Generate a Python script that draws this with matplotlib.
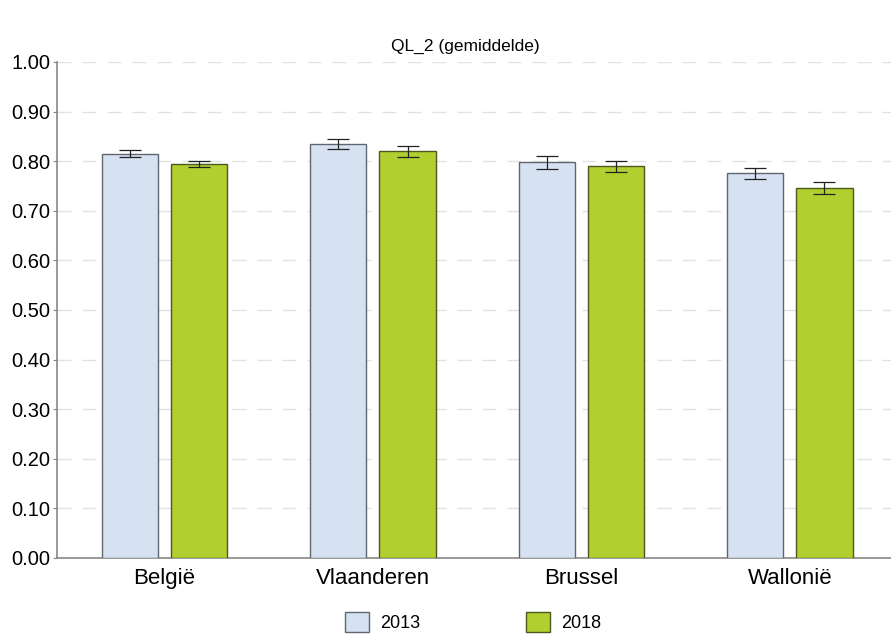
import numpy as np
import matplotlib.pyplot as plt
from matplotlib.patches import Patch

plt.rcParams["font.family"] = ["Liberation Sans", "DejaVu Sans"]

regions = ["België", "Vlaanderen", "Brussel", "Wallonië"]
years = ["2013", "2018"]
mean_2013 = [0.815, 0.835, 0.798, 0.776]
mean_2018 = [0.794, 0.820, 0.790, 0.746]
err_2013 = [0.007, 0.010, 0.013, 0.011]
err_2018 = [0.006, 0.011, 0.011, 0.012]

face_colors = ["#d6e1f1", "#b2cf30"]
edge_colors = ["#5f6670", "#4b5a1c"]

fig = plt.figure(figsize=(8.91, 6.35), dpi=100)
ax = fig.add_axes([0.064, 0.1213, 0.936, 0.7811])

x = np.arange(len(regions))
width = 0.27
offset = 0.166

for i, (vals, errs) in enumerate([(mean_2013, err_2013), (mean_2018, err_2018)]):
    pos = x + (i * 2 - 1) * offset
    ax.bar(pos, vals, width, color=face_colors[i], edgecolor=edge_colors[i],
           linewidth=1.0, zorder=3)
    ax.errorbar(pos, vals, yerr=errs, fmt="none", ecolor="#222222",
                elinewidth=0.9, capsize=8, capthick=0.9, zorder=4)

ax.set_xlim(-0.515, 3.485)
ax.set_ylim(0, 1.0)
ax.set_yticks(np.arange(0, 1.01, 0.1))
ax.set_yticklabels([f"{v:.2f}" for v in np.arange(0, 1.01, 0.1)], fontsize=14.5)
ax.set_xticks(x)
ax.set_xticklabels(regions, fontsize=16)
ax.tick_params(axis="x", length=0, pad=7)
ax.tick_params(axis="y", length=3, color="#888888", pad=2)

ax.yaxis.grid(True, color="#e2e2e2", linestyle=(0, (10, 8)), linewidth=1.0, zorder=0)
for side in ["top", "right"]:
    ax.spines[side].set_visible(False)
for side in ["left", "bottom"]:
    ax.spines[side].set_color("#888888")
    ax.spines[side].set_linewidth(1.2)

ax.set_title("QL_2 (gemiddelde)", fontsize=12.5, pad=8, x=0.49)

handles = [Patch(facecolor=face_colors[i], edgecolor=edge_colors[i], label=years[i])
           for i in range(2)]
fig.legend(handles=handles, loc="lower center", ncol=2, frameon=False,
           fontsize=13, bbox_to_anchor=(0.531, -0.021), columnspacing=5.9,
           handlelength=1.3, handleheight=1.3, handletextpad=0.6)

fig.savefig("out.png", dpi=100)
